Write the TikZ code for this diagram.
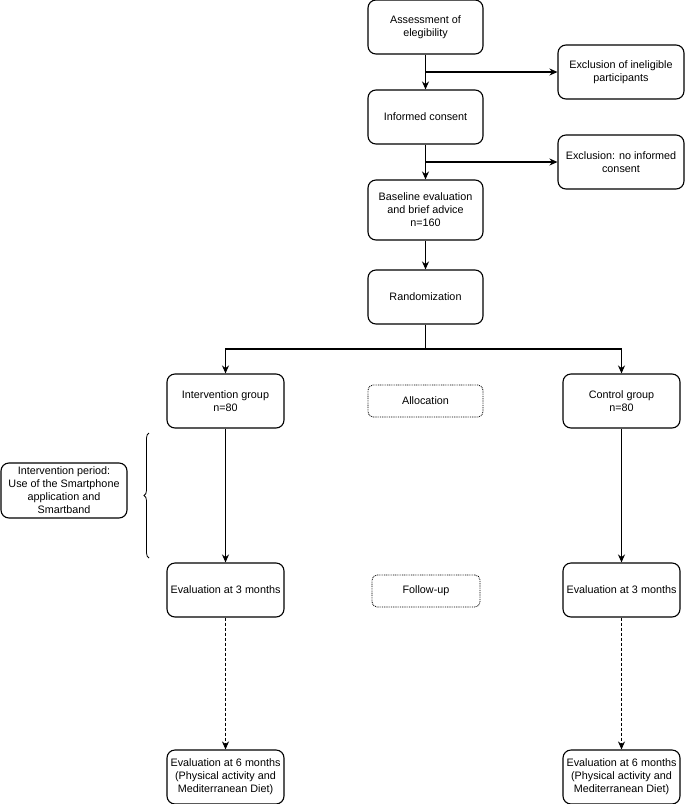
\documentclass[tikz,border=0pt]{standalone}
\usepackage{fontspec}
\setmainfont{Liberation Sans}
\usetikzlibrary{arrows.meta,decorations.pathreplacing}
\begin{document}
\begin{tikzpicture}[x=1pt,y=-1pt,
  box/.style={draw,line width=1.1pt,rounded corners=8pt,minimum width=117pt,minimum height=54pt,align=center,inner sep=1pt,font=\fontsize{10.8}{13}\selectfont},
  dotbox/.style={draw,line width=0.8pt,dash pattern=on 0.9pt off 0.9pt,rounded corners=5pt,minimum width=115pt,minimum height=32pt,align=center,font=\fontsize{10.8}{13}\selectfont},
  arr/.style={line width=1.1pt,-{Stealth[length=8pt,width=7pt]}},
  darr/.style={arr,dashed,line width=0.8pt,dash pattern=on 3pt off 2pt}]
\useasboundingbox (0,0) rectangle (685,804);
\node[box,minimum width=115pt] (assess) at (425.5,27) {Assessment of\\elegibility};
\node[box,minimum width=126pt] (ex1) at (621,72) {Exclusion of ineligible\\participants};
\node[box,minimum width=115pt] (cons) at (425.5,117) {Informed consent};
\node[box,minimum width=126pt] (ex2) at (621,162) {Exclusion: no informed\\consent};
\node[box,minimum width=115pt,minimum height=60pt] (base) at (425.5,210) {Baseline evaluation\\and brief advice\\n=160};
\node[box,minimum width=115pt] (rand) at (425.5,297) {Randomization};
\node[box] (int) at (225.5,401) {Intervention group\\n=80};
\node[box] (ctrl) at (621.5,401) {Control group\\n=80};
\node[dotbox] (alloc) at (425.5,401) {Allocation};
\node[box] (e3l) at (225.5,590) {Evaluation at 3 months};
\node[box] (e3r) at (621.5,590) {Evaluation at 3 months};
\node[dotbox,minimum width=108pt] (fup) at (426,591) {Follow-up};
\node[box] (e6l) at (225.5,777) {Evaluation at 6 months\\(Physical activity and\\Mediterranean Diet)};
\node[box] (e6r) at (621.5,777) {Evaluation at 6 months\\(Physical activity and\\Mediterranean Diet)};
\node[box,minimum width=126pt,minimum height=55pt] (per) at (64,490.5) {Intervention period:\\Use of the Smartphone\\application and\\Smartband};
\draw[arr] (assess) -- (cons);
\draw[arr] (assess.south |- ex1.west) -- (ex1.west);
\draw[arr] (cons) -- (base);
\draw[arr] (cons.south |- ex2.west) -- (ex2.west);
\draw[arr] (base) -- (rand);
\coordinate (split) at (425.5,349);
\draw[line width=1.1pt] (rand.south) -- (split);
\draw[arr] (split) -| (int.north);
\draw[arr] (split) -| (ctrl.north);
\draw[arr] (int) -- (e3l);
\draw[arr] (ctrl) -- (e3r);
\draw[darr] (e3l) -- (e6l);
\draw[darr] (e3r) -- (e6r);
\coordinate (bt) at (149,433);
\coordinate (bb) at (149,558);
\draw[line width=0.8pt,decorate,decoration={brace,amplitude=5pt}] (bb) -- (bt);
\end{tikzpicture}
\end{document}
